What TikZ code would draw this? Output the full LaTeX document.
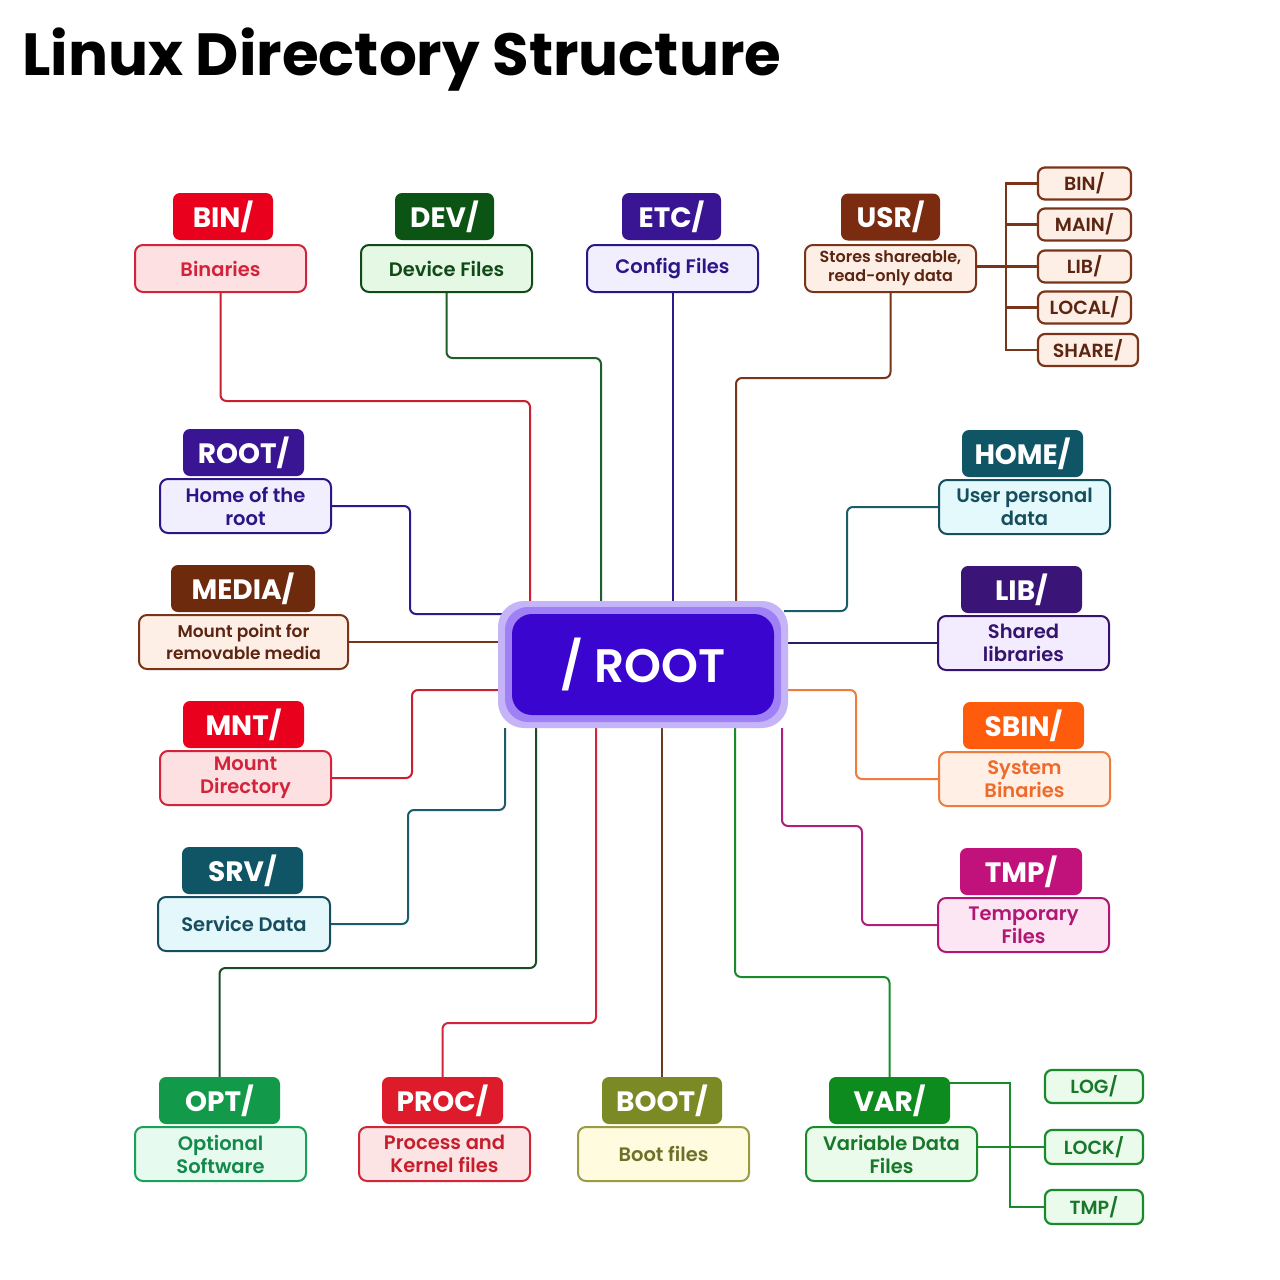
\documentclass[tikz,border=0pt]{standalone}
\usepackage{fontspec}
\setmainfont{Poppins}
\newfontfamily\psemi{Poppins SemiBold}
\newfontfamily\pmed{Poppins Medium}
\usetikzlibrary{backgrounds}
% colours
\definecolor{binH}{HTML}{E8001C}\definecolor{binF}{HTML}{FDE1E2}\definecolor{binT}{HTML}{D3233A}\definecolor{binL}{HTML}{C8202E}
\definecolor{devH}{HTML}{0B5413}\definecolor{devF}{HTML}{E4F8E4}\definecolor{devT}{HTML}{114A17}\definecolor{devL}{HTML}{1E5E2A}
\definecolor{etcH}{HTML}{3A1593}\definecolor{etcF}{HTML}{F1EFFE}\definecolor{etcT}{HTML}{2D1487}\definecolor{etcL}{HTML}{2D1A8A}
\definecolor{usrH}{HTML}{7A2B10}\definecolor{usrF}{HTML}{FDEFE5}\definecolor{usrT}{HTML}{5C2411}\definecolor{usrL}{HTML}{7A3419}
\definecolor{medH}{HTML}{6D2A0D}
\definecolor{srvH}{HTML}{0F5565}\definecolor{srvF}{HTML}{E4F7FB}\definecolor{srvT}{HTML}{174E5E}\definecolor{srvL}{HTML}{1A5C6A}
\definecolor{homF}{HTML}{E3F9FC}
\definecolor{libH}{HTML}{3A1577}\definecolor{libF}{HTML}{F3ECFF}\definecolor{libT}{HTML}{351470}\definecolor{libL}{HTML}{2E1A6A}
\definecolor{sbiH}{HTML}{FF5B0C}\definecolor{sbiF}{HTML}{FFEFE4}\definecolor{sbiT}{HTML}{EE6B2B}\definecolor{sbiL}{HTML}{EF7B3C}
\definecolor{tmpH}{HTML}{C1127C}\definecolor{tmpF}{HTML}{FDE6F3}\definecolor{tmpT}{HTML}{B01772}\definecolor{tmpL}{HTML}{B0207A}
\definecolor{optH}{HTML}{12994A}\definecolor{optF}{HTML}{E6FAF0}\definecolor{optT}{HTML}{148A4A}\definecolor{optB}{HTML}{1AA05A}\definecolor{optL}{HTML}{1E4A2A}
\definecolor{proH}{HTML}{DD1B2A}\definecolor{proF}{HTML}{FDE4E4}\definecolor{proT}{HTML}{C61E2D}\definecolor{proL}{HTML}{D02638}
\definecolor{booH}{HTML}{7B8A25}\definecolor{booF}{HTML}{FFFBDE}\definecolor{booT}{HTML}{6B7127}\definecolor{booB}{HTML}{9C9B45}\definecolor{booL}{HTML}{6B3A20}
\definecolor{varH}{HTML}{0E8B1F}\definecolor{varF}{HTML}{EBFBEB}\definecolor{varT}{HTML}{17782A}\definecolor{varB}{HTML}{198B2C}
\definecolor{halo}{HTML}{C5B5F8}\definecolor{ring}{HTML}{9F80F5}\definecolor{core}{HTML}{3A05CF}
\tikzset{
  hdr/.style={fill=#1, draw=none, rounded corners=7, minimum height=47, inner sep=0pt, text=white,
    font=\bfseries\fontsize{28}{30}\selectfont},
  dsc/.style n args={3}{fill=#1, draw=#2, text=#3, line width=2, rounded corners=8, inner sep=0pt,
    minimum height=54, minimum width=171, align=center, font=\psemi\fontsize{19.5}{23}\selectfont},
  sub/.style n args={3}{fill=#1, draw=#2, text=#3, line width=2.2, rounded corners=7, inner sep=0pt,
    minimum height=32, minimum width=93, font=\psemi\fontsize{19}{21}\selectfont},
  conn/.style={draw=#1, line width=2, rounded corners=6},
  tree/.style={draw=#1, line width=2.6},
}
\begin{document}
\begin{tikzpicture}[x=1pt,y=-1pt]
\useasboundingbox (0,0) rectangle (1280,1280);
\node[anchor=base west, inner sep=0pt, font=\bfseries\fontsize{59.5}{62}\selectfont] (title) at (22,75) {Linux Directory Structure};

% root
\node[fill=halo, rounded corners=26, minimum width=290, minimum height=127, inner sep=0pt] (root) at (643,664.5) {};
\node[fill=ring, rounded corners=23, minimum width=276, minimum height=115, inner sep=0pt] (rootring) at (643,664.5) {};
\node[fill=core, rounded corners=20, minimum width=262, minimum height=101, inner sep=0pt, text=white,
  font=\psemi\fontsize{47}{50}\selectfont] (rootcore) at (643,664.5) {/ ROOT};

% top row
\node[hdr=binH, minimum width=100] (binH) at (223,216.5) {BIN/};
\node[dsc={binF}{binT}{binT}, minimum height=47] (binD) at (220.5,268.5) {Binaries};
\node[hdr=devH, minimum width=99] (devH) at (444.5,216.5) {DEV/};
\node[dsc={devF}{devT}{devT}, minimum height=47] (devD) at (446.5,268.5) {Device Files};
\node[hdr=etcH, minimum width=99] (etcH) at (671.5,216.5) {ETC/};
\node[dsc={etcF}{etcT}{etcT}, minimum height=47] (etcD) at (672.5,268.5) {Config Files};
\node[hdr=usrH, minimum width=99] (usrH) at (890.5,217) {USR/};
\node[dsc={usrF}{usrL}{usrT}, minimum height=47, font=\psemi\fontsize{16}{19}\selectfont] (usrD) at (890.5,268.5) {Stores shareable,\\read-only data};

% usr subs
\node[sub={usrF}{usrL}{usrT}] (uBin) at (1084.5,183.5) {BIN/};
\node[sub={usrF}{usrL}{usrT}] (uMain) at (1084.5,224.5) {MAIN/};
\node[sub={usrF}{usrL}{usrT}] (uLib) at (1084.5,266.5) {LIB/};
\node[sub={usrF}{usrL}{usrT}] (uLocal) at (1084.5,307.5) {LOCAL/};
\node[sub={usrF}{usrL}{usrT}, minimum width=100] (uShare) at (1088,350) {SHARE/};

% left column
\node[hdr=etcH, minimum width=121] (rtH) at (243.5,452.5) {ROOT/};
\node[dsc={etcF}{etcT}{etcT}] (rtD) at (245.5,506) {Home of the\\root};
\node[hdr=medH, minimum width=144] (medH) at (243,588.5) {MEDIA/};
\node[dsc={usrF}{usrL}{usrT}, minimum width=209, font=\psemi\fontsize{17}{22}\selectfont] (medD) at (243.5,642) {Mount point for\\removable media};
\node[hdr=binH, minimum width=121] (mntH) at (243.5,724.5) {MNT/};
\node[dsc={binF}{binT}{binT}] (mntD) at (245.5,778) {Mount\\Directory};
\node[hdr=srvH, minimum width=121] (srvH) at (242.5,870.5) {SRV/};
\node[dsc={srvF}{srvT}{srvT}, minimum width=172] (srvD) at (244,924) {Service Data};

% right column
\node[hdr=srvH, minimum width=121] (homH) at (1022.5,453.5) {HOME/};
\node[dsc={homF}{srvT}{srvT}] (homD) at (1024.5,507) {User personal\\data};
\node[hdr=libH, minimum width=121] (libH) at (1021.5,589.5) {LIB/};
\node[dsc={libF}{libT}{libT}] (libD) at (1023.5,643) {Shared\\libraries};
\node[hdr=sbiH, minimum width=121] (sbiH) at (1023.5,725.5) {SBIN/};
\node[dsc={sbiF}{sbiL}{sbiT}] (sbiD) at (1024.5,779) {System\\Binaries};
\node[hdr=tmpH, minimum width=122] (tmpH) at (1021,871.5) {TMP/};
\node[dsc={tmpF}{tmpT}{tmpT}] (tmpD) at (1023.5,925) {Temporary\\Files};

% bottom row
\node[hdr=optH, minimum width=121] (optH) at (219.5,1100.5) {OPT/};
\node[dsc={optF}{optB}{optT}] (optD) at (220.5,1154) {Optional\\Software};
\node[hdr=proH, minimum width=121] (proH) at (442.5,1100.5) {PROC/};
\node[dsc={proF}{proL}{proT}] (proD) at (444.5,1154) {Process and\\Kernel files};
\node[hdr=booH, minimum width=120] (booH) at (662,1100.5) {BOOT/};
\node[dsc={booF}{booB}{booT}] (booD) at (663.5,1154) {Boot files};
\node[hdr=varH, minimum width=121] (varH) at (889.5,1100.5) {VAR/};
\node[dsc={varF}{varB}{varT}] (varD) at (891.5,1154) {Variable Data\\Files};

% var subs
\node[sub={varF}{varB}{varT}, minimum width=98, minimum height=33] (vLog) at (1094,1086.5) {LOG/};
\node[sub={varF}{varB}{varT}, minimum width=98, minimum height=34] (vLock) at (1094,1147) {LOCK/};
\node[sub={varF}{varB}{varT}, minimum width=98, minimum height=34] (vTmp) at (1094,1207) {TMP/};

\begin{scope}[on background layer]
\fill[white] (0,0) rectangle (1280,1280);
% top
\draw[conn=binL] (binD.south) -- ++(0,108) -| (root.north -| 530,0);
\draw[conn=devL] (devD.south) -- ++(0,65) -| (root.north -| 601,0);
\draw[conn=etcL] (etcD.south) -- (root.north -| etcD.south);
\draw[conn=usrL] (usrD.south) -- ++(0,85) -| (root.north -| 736,0);
% left
\draw[conn=etcL] (rtD.east) -- (410,506) |- ([xshift=4]root.west |- 0,614);
\draw[conn=usrL] (medD.east) -- (root.west |- medD.east);
\draw[conn=binL] (mntD.east) -- (412,778) |- ([xshift=4]root.west |- 0,690);
\draw[conn=srvL] (srvD.east) -- (408,924) |- (505,810) -- (root.south -| 505,0);
% bottom
\draw[conn=optL] (optH.north) -- (optH.north |- 0,968) -| (root.south -| 536,0);
\draw[conn=proL] (proH.north) -- (proH.north |- 0,1023) -| (root.south -| 596,0);
\draw[conn=booL] (booH.north) -- (root.south -| booH.north);
\draw[conn=varB] (varH.north) -- (varH.north |- 0,977) -| (root.south -| 735,0);
% right
\draw[conn=srvL] (homD.west) -- (847,507) |- ([xshift=-4]root.east |- 0,611);
\draw[conn=libL] (libD.west) -- (root.east |- libD.west);
\draw[conn=sbiL] (sbiD.west) -- (856,779) |- ([xshift=-4]root.east |- 0,690);
\draw[conn=tmpL] (tmpD.west) -- (862,925) |- (782,826) -- (root.south -| 782,0);
% usr tree
\draw[tree=usrL] (usrD.east |- uLib.west) -- (uLib.west);
\draw[tree=usrL] (uBin.west) -- (uBin.west -| 1006,0) -- (uShare.west -| 1006,0) -- (uShare.west);
\draw[tree=usrL] (uMain.west) -- (uMain.west -| 1006,0);
\draw[tree=usrL] (uLocal.west) -- (uLocal.west -| 1006,0);
% var tree
\draw[tree=varB] ([xshift=-6]varH.east |- 0,1083) -- (1010,1083) |- (vTmp.west);
\draw[tree=varB] (varD.east |- vLock.west) -- (vLock.west);
\end{scope}
\end{tikzpicture}
\end{document}
